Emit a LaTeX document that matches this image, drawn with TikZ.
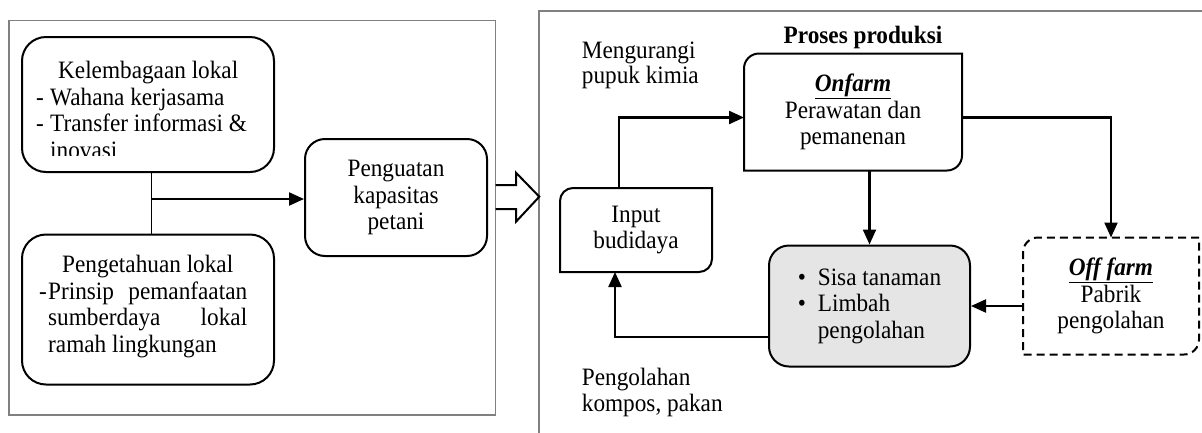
\documentclass[tikz,border=0pt]{standalone}
\usepackage{fontspec}
\setmainfont{Liberation Serif}[FakeStretch=0.93]
\usetikzlibrary{arrows.meta}
\setlength{\parindent}{0pt}

% outline with rounded top-left and bottom-right corners
\newcommand{\halfround}[3]{%
  \draw[#2] (#1.north) -- (#1.north east) -- (#1.east)
    [rounded corners=#3] -- (#1.south east) -- (#1.south)
    [sharp corners] -- (#1.south west) -- (#1.west)
    [rounded corners=#3] -- (#1.north west) -- cycle;}

\begin{document}
\begin{tikzpicture}[x=1pt,y=-1pt,
    every node/.append style={font=\fontsize{25}{26.5}\selectfont},
    boxline/.style={line width=2pt},
    hbox/.style={outer sep=1pt,align=center},
    arr/.style={line width=2.2pt,-{Triangle[length=15pt,width=13pt]}},
    frame/.style={draw=gray,line width=1.5pt},
    lbl/.style={inner sep=0pt,align=left}]
\useasboundingbox (0,0) rectangle (1202,432);

% panels
\draw[frame] (9,20.7) rectangle (495.7,415);
\draw[frame] (539,440) -- (539,11) -- (1210,11);

% left panel
\node[draw,boxline,rounded corners=24pt,minimum width=252pt,minimum height=135pt] (kel) at (148,104.5) {};
\begin{scope}
  \clip (22,30) rectangle (274,155);
  \node[lbl,anchor=west] (kelt) at (36,110) {%
    \makebox[224pt]{Kelembagaan lokal}\\
    \makebox[14pt][l]{-}Wahana kerjasama\\
    \makebox[14pt][l]{-}Transfer informasi \&\\
    \makebox[14pt]{}inovasi};
\end{scope}

\node[draw,boxline,rounded corners=24pt,minimum width=252pt,minimum height=150pt] (peng) at (148,309.5) {};
\node[lbl,anchor=west] (pengt) at (39,306.5) {%
  \makebox[217pt]{Pengetahuan lokal}\\
  \makebox[9pt][l]{-}\makebox[199pt][l]{Prinsip\hfill pemanfaatan}\\
  \makebox[9pt]{}\makebox[199pt][l]{sumberdaya\hfill lokal}\\
  \makebox[9pt]{}ramah lingkungan};

\node[draw,boxline,rounded corners=20pt,minimum width=182pt,minimum height=117pt,align=center] (pen) at (396,197.5) {Penguatan\\kapasitas\\petani};

\coordinate (jn) at (151.5,199);
\draw[line width=1pt] (kel.south -| jn) -- (peng.north -| jn);
\draw[arr] (jn) -- (jn -| pen.west);

% hollow arrow between panels
\draw[line width=2pt] (495.7,185) -- (516,185) -- (516,172.7) -- (539.3,196.7)
  -- (516,221.7) -- (516,209) -- (495.7,209);

% right panel
\node (proses) at (863,37) {\bfseries Proses produksi};
\node[lbl,anchor=west,font=\fontsize{25}{24.5}\selectfont] (kurang) at (581.7,65.3) {Mengurangi\\pupuk kimia};
\node[lbl,anchor=west] (olah) at (581.7,392.7) {Pengolahan\\kompos, pakan};

\node[hbox,minimum width=216pt,minimum height=115pt] (onf) at (853,112) {\underline{\textbf{\textit{Onfarm}}}\\Perawatan dan\\pemanenan};
\halfround{onf}{boxline}{15pt}

\node[hbox,minimum width=150pt,minimum height=82pt] (inp) at (636,230) {Input\\budidaya};
\halfround{inp}{boxline}{13pt}

\node[draw,boxline,fill=gray!20,rounded corners=20pt,minimum width=201pt,minimum height=121pt,align=left] (sisa) at (869.5,306) {%
  \makebox[20pt][l]{\textbullet}Sisa tanaman\\
  \makebox[20pt][l]{\textbullet}Limbah\\
  \makebox[20pt]{}pengolahan};

\node[hbox,minimum width=174pt,minimum height=115pt] (off) at (1111,296) {\underline{\textbf{\textit{Off farm}}}\\Pabrik\\pengolahan};
\halfround{off}{boxline,dash pattern=on 8pt off 5pt}{15pt}

\draw[arr] ([xshift=-17pt]inp.north) |- ([yshift=-5.5pt]onf.west);
\draw[arr] (sisa.north |- onf.south) -- (sisa.north);
\draw[arr] ([yshift=-5.5pt]onf.east) -| (off.north);
\draw[arr] (off.west |- sisa.east) -- (sisa.east);
\draw[arr] ([yshift=-31pt]sisa.west) -| ([xshift=-21pt]inp.south);
\end{tikzpicture}
\end{document}
